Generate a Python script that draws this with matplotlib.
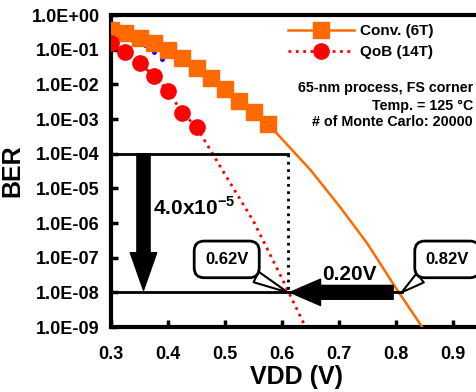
import numpy as np
import matplotlib
matplotlib.use('Agg')
import matplotlib.pyplot as plt
from matplotlib.lines import Line2D

plt.rcParams['font.family'] = ['Liberation Sans', 'DejaVu Sans']
plt.rcParams['font.weight'] = 'bold'
plt.rcParams['mathtext.fontset'] = 'custom'
plt.rcParams['mathtext.rm'] = 'Liberation Sans:bold'
plt.rcParams['mathtext.bf'] = 'Liberation Sans:bold'

# data (BER as log10)
conv_vdd = [0.3, 0.325, 0.35, 0.375, 0.4, 0.425, 0.45, 0.475, 0.5, 0.525, 0.55, 0.575]
conv_log = [-0.43, -0.52, -0.66, -0.81, -1.01, -1.24, -1.53, -1.82, -2.13, -2.48, -2.8, -3.14]
conv_tail_vdd = [0.575, 0.585, 0.65, 0.7, 0.75, 0.8, 0.85]
conv_tail_log = [-3.14, -3.31, -4.47, -5.5, -6.6, -7.88, -9.1]

qob_vdd = [0.3, 0.325, 0.35, 0.375, 0.4, 0.425, 0.45]
qob_log = [-0.81, -1.07, -1.38, -1.76, -2.19, -2.82, -3.23]
qob_tail_vdd = [0.45, 0.5, 0.55, 0.6, 0.65]
qob_tail_log = [-3.23, -4.6, -5.95, -7.6, -9.3]

hidden_vdd = [0.36, 0.375, 0.39]
hidden_log = [-0.86, -1.07, -1.27]

yticks = [10.0 ** -k for k in range(0, 10)]
ytick_labels = ['1.0E+00', '1.0E-01', '1.0E-02', '1.0E-03', '1.0E-04',
                '1.0E-05', '1.0E-06', '1.0E-07', '1.0E-08', '1.0E-09']
xticks = [0.3, 0.4, 0.5, 0.6, 0.7, 0.8, 0.9]

orange = '#FF6A00'
red = '#FF0000'

fig = plt.figure(figsize=(4.76, 3.92), dpi=100)
ax = fig.add_axes([111 / 476, 65 / 392, 370.5 / 476, 312 / 392])

ax.plot(hidden_vdd, 10.0 ** np.array(hidden_log), 'o', color='blue', ms=2.5, zorder=2)
ax.plot(conv_tail_vdd, 10.0 ** np.array(conv_tail_log), '-', color=orange, lw=1.8, zorder=3)
ax.plot(conv_vdd, 10.0 ** np.array(conv_log), '-s', color=orange, lw=1.8, ms=12, zorder=3)
ax.plot(qob_tail_vdd, 10.0 ** np.array(qob_tail_log), ':', color=red, lw=2, zorder=4)
ax.plot(qob_vdd, 10.0 ** np.array(qob_log), ':o', color=red, lw=2, ms=11, zorder=4)

# guide lines
ax.plot([0.3, 0.61], [1e-4, 1e-4], '-', color='black', lw=2, zorder=5)
ax.plot([0.61, 0.61], [1e-4, 1e-8], ':', color='black', lw=2, zorder=5)
ax.plot([0.3, 0.81], [1e-8, 1e-8], '-', color='black', lw=2, zorder=5)

# block arrows
ax.annotate('', xy=(0.357, 1.15e-8), xytext=(0.357, 1e-4),
            arrowprops=dict(arrowstyle='simple,head_length=2.7,head_width=1.9,tail_width=0.95',
                            mutation_scale=10, fc='black', ec='black', shrinkA=0, shrinkB=0), zorder=6)
ax.annotate('', xy=(0.614, 1e-8), xytext=(0.795, 1e-8),
            arrowprops=dict(arrowstyle='simple,head_length=2.2,head_width=1.9,tail_width=1.0',
                            mutation_scale=10, fc='black', ec='black', shrinkA=0, shrinkB=0), zorder=6)

ax.text(0.374, 10 ** -5.56, r'4.0x10$^{-5}$', fontsize=15, fontweight='bold', va='center', ha='left')
ax.text(0.719, 10 ** -7.49, '0.20V', fontsize=15, fontweight='bold', va='center', ha='center')

# callouts
ax.annotate('0.62V', xy=(0.61, 1e-8), xytext=(0.503, 10 ** -7.05), fontsize=12, fontweight='bold',
            ha='center', va='center',
            bbox=dict(boxstyle='round,pad=0.65,rounding_size=0.6', fc='white', ec='black', lw=2),
            arrowprops=dict(arrowstyle='wedge,tail_width=0.7', fc='white', ec='black', lw=1.5,
                            shrinkA=0, shrinkB=0, relpos=(0.7, 0)), zorder=7)
ax.annotate('0.82V', xy=(0.81, 1e-8), xytext=(0.89, 10 ** -7.05), fontsize=12, fontweight='bold',
            ha='center', va='center',
            bbox=dict(boxstyle='round,pad=0.65,rounding_size=0.6', fc='white', ec='black', lw=2),
            arrowprops=dict(arrowstyle='wedge,tail_width=0.7', fc='white', ec='black', lw=1.5,
                            shrinkA=0, shrinkB=0, relpos=(0.2, 0)), zorder=7)

ax.set_yscale('log')
ax.set_ylim(1e-9, 1)
ax.set_xlim(0.3, 0.95)
ax.set_yticks(yticks)
ax.set_yticklabels(ytick_labels)
ax.minorticks_off()
ax.set_xticks(xticks)
ax.set_xticklabels([f'{v:.1f}' for v in xticks])
ax.tick_params(direction='in', length=5, width=2.5, labelsize=13)
ax.tick_params(axis='x', pad=14)
ax.tick_params(axis='y', pad=8)
for lbl in ax.get_xticklabels() + ax.get_yticklabels():
    lbl.set_fontweight('bold')
for s in ['left', 'bottom', 'top']:
    ax.spines[s].set_linewidth(3)
ax.spines['right'].set_visible(False)

ax.set_xlabel('VDD (V)', fontsize=18, fontweight='bold', labelpad=1)
ax.set_ylabel('BER', fontsize=18, fontweight='bold')
ax.yaxis.set_label_coords(-0.235, 0.5)

handles = [Line2D([], [], color=orange, lw=1.8, marker='s', ms=12),
           Line2D([], [], color=red, lw=2, ls=':', marker='o', ms=11)]
fig.legend(handles, ['Conv. (6T)', 'QoB (14T)'], loc='upper left',
           bbox_to_anchor=(288 / 476, 1 - 24 / 392), frameon=False, fontsize=11,
           handlelength=4.3, handletextpad=0.4, labelspacing=0.45, borderpad=0, borderaxespad=0)

fig.text(473 / 476, 1 - 88 / 392, '65-nm process, FS corner', fontsize=10.3, fontweight='bold', ha='right', va='center')
fig.text(473 / 476, 1 - 106 / 392, 'Temp. = 125 \u00b0C', fontsize=10.3, fontweight='bold', ha='right', va='center')
fig.text(473 / 476, 1 - 122 / 392, '# of Monte Carlo: 20000', fontsize=10.3, fontweight='bold', ha='right', va='center')

fig.savefig('out.png', dpi=100)
